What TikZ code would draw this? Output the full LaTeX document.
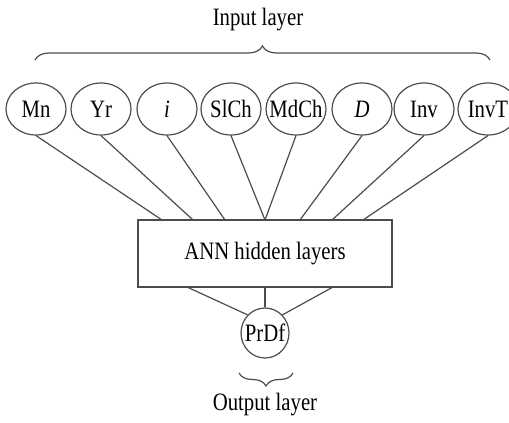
\documentclass[tikz,border=0pt]{standalone}
\usepackage{fontspec}
\setmainfont[FakeStretch=0.83]{Liberation Serif}
\usetikzlibrary{shapes.geometric,decorations.pathreplacing}
\newcommand{\etiq}[1]{\makebox[0pt]{#1}}

\begin{document}
\begin{tikzpicture}[x=1pt,y=1pt,font=\fontsize{25}{29}\selectfont]
	% définition des styles
	\tikzstyle{neurone}=[ellipse,draw=black!70,line width=1.2pt,inner sep=0pt,minimum width=60pt,minimum height=52pt]
	\tikzstyle{couche}=[rectangle,draw=black!70,line width=1.2pt,minimum width=254pt,minimum height=67pt]
	\tikzstyle{lien}=[draw=black!70,line width=1.2pt]
	\tikzstyle{accolade}=[draw=black!70,line width=1.2pt,decorate,decoration={brace,amplitude=14pt}]
	\useasboundingbox (0,0) rectangle (509,423);
	% les nœuds
	\node[neurone] (mn) at (36,314) {\etiq{Mn}};
	\node[neurone] (yr) at (101,314) {\etiq{Yr}};
	\node[neurone] (i) at (167,314) {\etiq{\textit{i}}};
	\node[neurone] (sl) at (231,314) {\etiq{SlCh}};
	\node[neurone] (md) at (296,314) {\etiq{MdCh}};
	\node[neurone] (d) at (362,314) {\etiq{\textit{D}}};
	\node[neurone] (inv) at (424,314) {\etiq{Inv}};
	\node[neurone] (invt) at (488,314) {\etiq{InvT}};
	\node[couche] (h) at (265,169.5) {ANN hidden layers};
	\node[neurone,minimum width=48pt,minimum height=50pt] (p) at (265,90) {\etiq{PrDf}};
	% les points d'arrivée
	\coordinate (h1) at (162,203);
	\coordinate (h2) at (193,203);
	\coordinate (h3) at (225,203);
	\coordinate (h4) at (265,203);
	\coordinate (h5) at (300,203);
	\coordinate (h6) at (332,203);
	\coordinate (h7) at (363,203);
	\coordinate (b1) at (187,136);
	\coordinate (b2) at (265,136);
	\coordinate (b3) at (333,136);
	% les liens
	\draw[lien] (mn.south) -- (h1);
	\draw[lien] (yr.south) -- (h2);
	\draw[lien] (i.south) -- (h3);
	\draw[lien] (sl.south) -- (h4);
	\draw[lien] (md.south) -- (h4);
	\draw[lien] (d.south) -- (h5);
	\draw[lien] (inv.south) -- (h6);
	\draw[lien] (invt.south) -- (h7);
	\draw[lien] (b1) -- (p.north west);
	\draw[lien] (b2) -- (p.north);
	\draw[lien] (b3) -- (p.north east);
	% les légendes
	\draw[accolade] (35,363) -- (490,363);
	\node (in) at (258,403) {Input layer};
	\draw[accolade,decoration={amplitude=13pt}] (293,50) -- (239,50);
	\node (out) at (265,18) {Output layer};
\end{tikzpicture}
\end{document}
